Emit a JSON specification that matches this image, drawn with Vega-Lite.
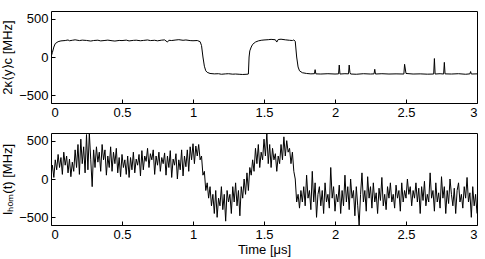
{
  "$schema": "https://vega.github.io/schema/vega-lite/v6.json",
  "padding": {"left": 1, "top": 10, "right": 4, "bottom": 3},
  "spacing": 12,
  "config": {
    "font": "Liberation Sans",
    "view": {"stroke": "black", "strokeWidth": 1},
    "axis": {"grid": false, "domain": false, "tickSize": -4, "tickColor": "black", "labelColor": "black", "labelFontSize": 13, "titleFontSize": 13, "titleFontWeight": "normal", "titleColor": "black", "labelFont": "Liberation Sans", "titleFont": "Liberation Sans", "labelPadding": 7},
    "text": {"font": "Liberation Sans", "fontSize": 13}
  },
  "datasets": {
    "a": [
      {"t":0,"v":0},{"t":0.01,"v":60},{"t":0.02,"v":130},{"t":0.03,"v":175},{"t":0.05,"v":200},{"t":0.07,"v":210},{"t":0.1,"v":215},{"t":0.12,"v":222},{"t":0.13,"v":212},{"t":0.15,"v":218},{"t":0.17,"v":224},{"t":0.2,"v":214},{"t":0.22,"v":220},{"t":0.25,"v":216},{"t":0.28,"v":208},{"t":0.3,"v":215},{"t":0.33,"v":219},{"t":0.35,"v":210},{"t":0.38,"v":216},{"t":0.4,"v":220},{"t":0.43,"v":212},{"t":0.45,"v":208},{"t":0.48,"v":216},{"t":0.5,"v":214},{"t":0.53,"v":220},{"t":0.55,"v":210},{"t":0.58,"v":217},{"t":0.6,"v":219},{"t":0.63,"v":212},{"t":0.65,"v":216},{"t":0.68,"v":222},{"t":0.7,"v":214},{"t":0.73,"v":218},{"t":0.75,"v":211},{"t":0.78,"v":220},{"t":0.8,"v":223},{"t":0.82,"v":195},{"t":0.83,"v":218},{"t":0.85,"v":215},{"t":0.88,"v":222},{"t":0.9,"v":226},{"t":0.93,"v":218},{"t":0.95,"v":222},{"t":0.98,"v":214},{"t":1.0,"v":212},{"t":1.03,"v":215},{"t":1.05,"v":200},{"t":1.06,"v":150},{"t":1.07,"v":0},{"t":1.08,"v":-120},{"t":1.09,"v":-180},{"t":1.1,"v":-200},{"t":1.12,"v":-215},{"t":1.15,"v":-220},{"t":1.18,"v":-218},{"t":1.2,"v":-225},{"t":1.23,"v":-220},{"t":1.25,"v":-218},{"t":1.28,"v":-224},{"t":1.3,"v":-222},{"t":1.33,"v":-226},{"t":1.35,"v":-228},{"t":1.38,"v":-225},{"t":1.39,"v":-222},{"t":1.395,"v":0},{"t":1.4,"v":80},{"t":1.41,"v":130},{"t":1.42,"v":165},{"t":1.44,"v":195},{"t":1.46,"v":210},{"t":1.48,"v":218},{"t":1.5,"v":222},{"t":1.53,"v":226},{"t":1.55,"v":230},{"t":1.58,"v":225},{"t":1.59,"v":195},{"t":1.6,"v":228},{"t":1.62,"v":232},{"t":1.65,"v":224},{"t":1.68,"v":218},{"t":1.7,"v":215},{"t":1.71,"v":222},{"t":1.72,"v":205},{"t":1.73,"v":0},{"t":1.74,"v":-130},{"t":1.75,"v":-180},{"t":1.77,"v":-205},{"t":1.8,"v":-215},{"t":1.83,"v":-220},{"t":1.855,"v":-218},{"t":1.86,"v":-165},{"t":1.865,"v":-220},{"t":1.9,"v":-222},{"t":1.95,"v":-218},{"t":2.0,"v":-222},{"t":2.025,"v":-220},{"t":2.03,"v":-105},{"t":2.035,"v":-222},{"t":2.07,"v":-218},{"t":2.095,"v":-220},{"t":2.1,"v":-105},{"t":2.105,"v":-200},{"t":2.11,"v":-222},{"t":2.15,"v":-225},{"t":2.2,"v":-218},{"t":2.25,"v":-222},{"t":2.275,"v":-220},{"t":2.28,"v":-160},{"t":2.285,"v":-222},{"t":2.33,"v":-218},{"t":2.38,"v":-222},{"t":2.43,"v":-220},{"t":2.485,"v":-222},{"t":2.49,"v":-95},{"t":2.5,"v":-215},{"t":2.55,"v":-222},{"t":2.6,"v":-220},{"t":2.65,"v":-224},{"t":2.695,"v":-222},{"t":2.7,"v":-20},{"t":2.705,"v":-222},{"t":2.74,"v":-218},{"t":2.765,"v":-222},{"t":2.77,"v":-70},{"t":2.775,"v":-220},{"t":2.82,"v":-222},{"t":2.87,"v":-218},{"t":2.92,"v":-225},{"t":2.95,"v":-220},{"t":2.955,"v":-190},{"t":2.96,"v":-222},{"t":3.0,"v":-220}
    ],
    "b": [
      {"t":0.00,"v":50},{"t":0.01,"v":180},{"t":0.02,"v":20},{"t":0.03,"v":250},{"t":0.04,"v":120},{"t":0.05,"v":320},{"t":0.06,"v":150},{"t":0.07,"v":280},{"t":0.08,"v":60},{"t":0.09,"v":350},
      {"t":0.10,"v":180},{"t":0.11,"v":300},{"t":0.12,"v":80},{"t":0.13,"v":260},{"t":0.14,"v":30},{"t":0.15,"v":220},{"t":0.16,"v":100},{"t":0.17,"v":380},{"t":0.18,"v":150},{"t":0.19,"v":450},
      {"t":0.20,"v":60},{"t":0.21,"v":520},{"t":0.22,"v":200},{"t":0.23,"v":420},{"t":0.24,"v":80},{"t":0.25,"v":580},{"t":0.26,"v":120},{"t":0.27,"v":600},{"t":0.28,"v":250},{"t":0.29,"v":-100},
      {"t":0.30,"v":380},{"t":0.31,"v":150},{"t":0.32,"v":420},{"t":0.33,"v":220},{"t":0.34,"v":350},{"t":0.35,"v":100},{"t":0.36,"v":450},{"t":0.37,"v":250},{"t":0.38,"v":380},{"t":0.39,"v":50},
      {"t":0.40,"v":300},{"t":0.41,"v":150},{"t":0.42,"v":420},{"t":0.43,"v":100},{"t":0.44,"v":350},{"t":0.45,"v":200},{"t":0.46,"v":400},{"t":0.47,"v":80},{"t":0.48,"v":280},{"t":0.49,"v":30},
      {"t":0.50,"v":320},{"t":0.51,"v":150},{"t":0.52,"v":250},{"t":0.53,"v":60},{"t":0.54,"v":300},{"t":0.55,"v":20},{"t":0.56,"v":280},{"t":0.57,"v":120},{"t":0.58,"v":350},{"t":0.59,"v":80},
      {"t":0.60,"v":260},{"t":0.61,"v":180},{"t":0.62,"v":320},{"t":0.63,"v":40},{"t":0.64,"v":370},{"t":0.65,"v":120},{"t":0.66,"v":300},{"t":0.67,"v":230},{"t":0.68,"v":400},{"t":0.69,"v":150},
      {"t":0.70,"v":330},{"t":0.71,"v":250},{"t":0.72,"v":380},{"t":0.73,"v":60},{"t":0.74,"v":300},{"t":0.75,"v":180},{"t":0.76,"v":350},{"t":0.77,"v":100},{"t":0.78,"v":280},{"t":0.79,"v":200},
      {"t":0.80,"v":340},{"t":0.81,"v":50},{"t":0.82,"v":300},{"t":0.83,"v":150},{"t":0.84,"v":370},{"t":0.85,"v":20},{"t":0.86,"v":260},{"t":0.87,"v":180},{"t":0.88,"v":330},{"t":0.89,"v":0},
      {"t":0.90,"v":250},{"t":0.91,"v":120},{"t":0.92,"v":380},{"t":0.93,"v":40},{"t":0.94,"v":300},{"t":0.95,"v":160},{"t":0.96,"v":380},{"t":0.97,"v":100},{"t":0.98,"v":420},{"t":0.99,"v":250},
      {"t":1.00,"v":460},{"t":1.01,"v":200},{"t":1.02,"v":430},{"t":1.03,"v":300},{"t":1.04,"v":450},{"t":1.05,"v":250},{"t":1.06,"v":300},{"t":1.07,"v":50},{"t":1.08,"v":100},{"t":1.09,"v":-150},
      {"t":1.10,"v":-50},{"t":1.11,"v":-250},{"t":1.12,"v":-100},{"t":1.13,"v":-350},{"t":1.14,"v":-200},{"t":1.15,"v":-450},{"t":1.16,"v":-150},{"t":1.17,"v":-500},{"t":1.18,"v":-250},{"t":1.19,"v":-350},
      {"t":1.20,"v":-100},{"t":1.21,"v":-400},{"t":1.22,"v":-200},{"t":1.23,"v":-550},{"t":1.24,"v":-150},{"t":1.25,"v":-300},{"t":1.26,"v":-200},{"t":1.27,"v":-450},{"t":1.28,"v":-100},{"t":1.29,"v":-300},
      {"t":1.30,"v":-50},{"t":1.31,"v":-350},{"t":1.32,"v":-150},{"t":1.33,"v":-480},{"t":1.34,"v":-100},{"t":1.35,"v":-250},{"t":1.36,"v":0},{"t":1.37,"v":-200},{"t":1.38,"v":80},{"t":1.39,"v":-150},
      {"t":1.40,"v":150},{"t":1.41,"v":50},{"t":1.42,"v":250},{"t":1.43,"v":100},{"t":1.44,"v":400},{"t":1.45,"v":200},{"t":1.46,"v":450},{"t":1.47,"v":150},{"t":1.48,"v":350},{"t":1.49,"v":250},
      {"t":1.50,"v":520},{"t":1.51,"v":300},{"t":1.52,"v":600},{"t":1.53,"v":200},{"t":1.54,"v":450},{"t":1.55,"v":150},{"t":1.56,"v":400},{"t":1.57,"v":250},{"t":1.58,"v":330},{"t":1.59,"v":100},
      {"t":1.60,"v":300},{"t":1.61,"v":200},{"t":1.62,"v":450},{"t":1.63,"v":250},{"t":1.64,"v":550},{"t":1.65,"v":300},{"t":1.66,"v":500},{"t":1.67,"v":350},{"t":1.68,"v":400},{"t":1.69,"v":200},
      {"t":1.70,"v":350},{"t":1.71,"v":100},{"t":1.72,"v":0},{"t":1.73,"v":-300},{"t":1.74,"v":-200},{"t":1.75,"v":-380},{"t":1.76,"v":-150},{"t":1.77,"v":-300},{"t":1.78,"v":-100},{"t":1.79,"v":-350},
      {"t":1.80,"v":50},{"t":1.81,"v":-250},{"t":1.82,"v":-150},{"t":1.83,"v":-400},{"t":1.84,"v":100},{"t":1.85,"v":-300},{"t":1.86,"v":-50},{"t":1.87,"v":-500},{"t":1.88,"v":-200},{"t":1.89,"v":-100},
      {"t":1.90,"v":-350},{"t":1.91,"v":-150},{"t":1.92,"v":-450},{"t":1.93,"v":-50},{"t":1.94,"v":-300},{"t":1.95,"v":-200},{"t":1.96,"v":-380},{"t":1.97,"v":150},{"t":1.98,"v":-250},{"t":1.99,"v":-100},
      {"t":2.00,"v":-420},{"t":2.01,"v":-200},{"t":2.02,"v":-300},{"t":2.03,"v":-80},{"t":2.04,"v":-450},{"t":2.05,"v":-150},{"t":2.06,"v":-350},{"t":2.07,"v":50},{"t":2.08,"v":-300},{"t":2.09,"v":-100},
      {"t":2.10,"v":-400},{"t":2.11,"v":0},{"t":2.12,"v":-250},{"t":2.13,"v":-150},{"t":2.14,"v":-480},{"t":2.15,"v":-100},{"t":2.16,"v":-350},{"t":2.17,"v":-600},{"t":2.18,"v":-200},{"t":2.19,"v":80},
      {"t":2.20,"v":-300},{"t":2.21,"v":-150},{"t":2.22,"v":-420},{"t":2.23,"v":30},{"t":2.24,"v":-250},{"t":2.25,"v":-100},{"t":2.26,"v":-380},{"t":2.27,"v":-50},{"t":2.28,"v":-300},{"t":2.29,"v":-180},
      {"t":2.30,"v":-450},{"t":2.31,"v":-120},{"t":2.32,"v":-280},{"t":2.33,"v":20},{"t":2.34,"v":-350},{"t":2.35,"v":-200},{"t":2.36,"v":-400},{"t":2.37,"v":-100},{"t":2.38,"v":-250},{"t":2.39,"v":-50},
      {"t":2.40,"v":-300},{"t":2.41,"v":-200},{"t":2.42,"v":-380},{"t":2.43,"v":-80},{"t":2.44,"v":-250},{"t":2.45,"v":-150},{"t":2.46,"v":-420},{"t":2.47,"v":-50},{"t":2.48,"v":-300},{"t":2.49,"v":-150},
      {"t":2.50,"v":-250},{"t":2.51,"v":0},{"t":2.52,"v":-200},{"t":2.53,"v":-100},{"t":2.54,"v":-350},{"t":2.55,"v":-150},{"t":2.56,"v":-250},{"t":2.57,"v":-50},{"t":2.58,"v":-300},{"t":2.59,"v":-120},
      {"t":2.60,"v":-450},{"t":2.61,"v":-100},{"t":2.62,"v":-280},{"t":2.63,"v":-30},{"t":2.64,"v":-350},{"t":2.65,"v":-200},{"t":2.66,"v":-300},{"t":2.67,"v":80},{"t":2.68,"v":-250},{"t":2.69,"v":-150},
      {"t":2.70,"v":-420},{"t":2.71,"v":-50},{"t":2.72,"v":-300},{"t":2.73,"v":-180},{"t":2.74,"v":-380},{"t":2.75,"v":30},{"t":2.76,"v":-250},{"t":2.77,"v":-100},{"t":2.78,"v":-450},{"t":2.79,"v":-150},
      {"t":2.80,"v":-320},{"t":2.81,"v":0},{"t":2.82,"v":-200},{"t":2.83,"v":-350},{"t":2.84,"v":-120},{"t":2.85,"v":-450},{"t":2.86,"v":-150},{"t":2.87,"v":-50},{"t":2.88,"v":-300},{"t":2.89,"v":-200},
      {"t":2.90,"v":-380},{"t":2.91,"v":-100},{"t":2.92,"v":-250},{"t":2.93,"v":20},{"t":2.94,"v":-300},{"t":2.95,"v":-180},{"t":2.96,"v":-500},{"t":2.97,"v":-100},{"t":2.98,"v":-350},{"t":2.99,"v":-200},
      {"t":3.00,"v":-450}
    ]
  },
  "vconcat": [
    {
      "width": 426, "height": 92,
      "layer": [
        {
          "data": {"name": "a"},
          "mark": {"type": "line", "color": "black", "strokeWidth": 1, "clip": true},
          "encoding": {
            "x": {"field": "t", "type": "quantitative", "scale": {"domain": [0, 3], "nice": false}, "axis": {"title": null, "values": [0, 0.5, 1, 1.5, 2, 2.5, 3], "format": "~r"}},
            "y": {"field": "v", "type": "quantitative", "scale": {"domain": [-600, 600], "nice": false}, "axis": {"title": "2κ⟨y⟩c [MHz]", "values": [-500, 0, 500], "format": "d", "titlePadding": 4}}
          }
        },
        {
          "mark": {"type": "text", "align": "left", "baseline": "middle"},
          "encoding": {
            "x": {"datum": 0.1},
            "y": {"datum": 380},
            "text": {"value": "(a)"}
          }
        }
      ]
    },
    {
      "width": 426, "height": 92,
      "layer": [
        {
          "data": {"name": "b"},
          "mark": {"type": "line", "color": "black", "strokeWidth": 1, "clip": true},
          "encoding": {
            "x": {"field": "t", "type": "quantitative", "scale": {"domain": [0, 3], "nice": false}, "axis": {"title": "Time [μs]", "values": [0, 0.5, 1, 1.5, 2, 2.5, 3], "format": "~r", "titlePadding": 2}},
            "y": {"field": "v", "type": "quantitative", "scale": {"domain": [-600, 600], "nice": false}, "axis": {"title": "Iₕₒₘ(t) [MHz]", "values": [-500, 0, 500], "format": "d", "titlePadding": 4}}
          }
        },
        {
          "mark": {"type": "text", "align": "left", "baseline": "middle"},
          "encoding": {
            "x": {"datum": 0.1},
            "y": {"datum": -380},
            "text": {"value": "(b)"}
          }
        }
      ]
    }
  ]
}
